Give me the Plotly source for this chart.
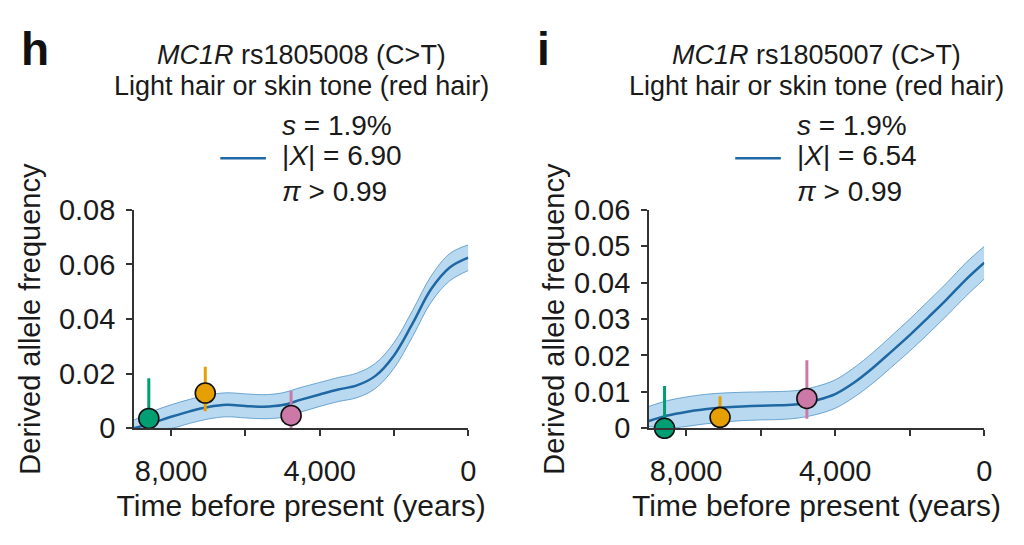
import plotly.graph_objects as go

# ---------------- data ----------------
years = [9000, 8500, 8000, 7500, 7000, 6500, 6000, 5500, 5000, 4500,
         4000, 3500, 3000, 2500, 2000, 1500, 1000, 500, 0]

h_mean = [0.0000, 0.0020, 0.0042, 0.0062, 0.0078, 0.0086, 0.0082, 0.0079, 0.0085, 0.0105,
          0.0124, 0.0142, 0.0157, 0.0192, 0.0267, 0.0384, 0.0510, 0.0589, 0.0625]
h_upper = [0.0030, 0.0062, 0.0086, 0.0106, 0.0122, 0.0130, 0.0126, 0.0123, 0.0130, 0.0150,
           0.0168, 0.0186, 0.0202, 0.0238, 0.0314, 0.0432, 0.0558, 0.0640, 0.0672]
h_lower = [0.0000, 0.0000, 0.0000, 0.0018, 0.0034, 0.0042, 0.0038, 0.0035, 0.0040, 0.0060,
           0.0080, 0.0098, 0.0112, 0.0146, 0.0220, 0.0336, 0.0462, 0.0540, 0.0578]

i_mean = [0.0020, 0.0035, 0.0045, 0.0052, 0.0057, 0.0060, 0.0062, 0.0063, 0.0066, 0.0077,
          0.0094, 0.0125, 0.0165, 0.0210, 0.0256, 0.0305, 0.0355, 0.0408, 0.0455]
i_upper = [0.0060, 0.0076, 0.0086, 0.0093, 0.0097, 0.0099, 0.0100, 0.0101, 0.0104, 0.0115,
           0.0133, 0.0166, 0.0207, 0.0253, 0.0300, 0.0350, 0.0400, 0.0454, 0.0500]
i_lower = [0.0005, 0.0000, 0.0005, 0.0012, 0.0017, 0.0021, 0.0023, 0.0024, 0.0028, 0.0038,
           0.0055, 0.0085, 0.0123, 0.0167, 0.0212, 0.0260, 0.0310, 0.0362, 0.0410]

pt_colors = ["#009E73", "#E69F00", "#CC79A7"]

h_pt_x = [8600, 7080, 4770]
h_pt_y = [0.0036, 0.0129, 0.0047]
h_pt_hi = [0.0183, 0.0225, 0.0137]
h_pt_lo = [0.0000, 0.0062, 0.0000]

i_pt_x = [8580, 7090, 4760]
i_pt_y = [0.0000, 0.0030, 0.0082]
i_pt_hi = [0.0116, 0.0088, 0.0187]
i_pt_lo = [0.0000, 0.0000, 0.0026]

h_yticks = [0, 0.02, 0.04, 0.06, 0.08]
h_yticktext = ["0", "0.02", "0.04", "0.06", "0.08"]
i_yticks = [0, 0.01, 0.02, 0.03, 0.04, 0.05, 0.06]
i_yticktext = ["0", "0.01", "0.02", "0.03", "0.04", "0.05", "0.06"]
xticks = [8000, 6000, 4000, 2000, 0]
xticktext = ["8,000", "", "4,000", "", "0"]

panels = [
    dict(label="h", snp="rs1805008", X="6.90", mean=h_mean, up=h_upper, lo=h_lower,
         px=h_pt_x, py=h_pt_y, phi=h_pt_hi, plo=h_pt_lo, yt=h_yticks, ytt=h_yticktext, ymax=0.08),
    dict(label="i", snp="rs1805007", X="6.54", mean=i_mean, up=i_upper, lo=i_lower,
         px=i_pt_x, py=i_pt_y, phi=i_pt_hi, plo=i_pt_lo, yt=i_yticks, ytt=i_yticktext, ymax=0.06),
]

# ---------------- styling ----------------
FONT = "Liberation Sans, Arial, sans-serif"
TXT = "#1a1a1a"
LINE = "#1f68a3"
BAND = "rgba(125,185,226,0.55)"
BAND_EDGE = "rgba(80,148,200,0.8)"
AXC = "#333333"

W, H = 1024, 545
x_domains = [[135 / W, 472 / W], [654 / W, 992 / W]]
y_domain = [(H - 438) / H, (H - 206) / H]
ytitle_standoff = [10, 1]
letter_x = [19, 539]
stat_x = [282, 801]
legline_x = [222, 741]

fig = go.Figure()
annotations = []
shapes = []


def ann(text, x, ypix, size, anchor="center", **kw):
    annotations.append(dict(text=text, xref="paper", yref="paper", x=x, y=1 - ypix / H,
                            xanchor=anchor, yanchor="middle", showarrow=False,
                            font=dict(size=size, color=kw.pop("color", TXT), family=FONT), **kw))


for k, p in enumerate(panels):
    xa = "x" if k == 0 else "x2"
    ya = "y" if k == 0 else "y2"
    # credible band
    fig.add_trace(go.Scatter(x=years, y=p["lo"], mode="lines", line=dict(color=BAND_EDGE, width=1, shape="spline"),
                             xaxis=xa, yaxis=ya, showlegend=False, hoverinfo="skip"))
    fig.add_trace(go.Scatter(x=years, y=p["up"], mode="lines", line=dict(color=BAND_EDGE, width=1, shape="spline"),
                             fill="tonexty", fillcolor=BAND, xaxis=xa, yaxis=ya, showlegend=False, hoverinfo="skip"))
    # mean trajectory
    fig.add_trace(go.Scatter(x=years, y=p["mean"], mode="lines", line=dict(color=LINE, width=2.5, shape="spline"),
                             xaxis=xa, yaxis=ya, showlegend=False))
    # ancient samples
    for j in range(3):
        fig.add_trace(go.Scatter(
            x=[p["px"][j]], y=[p["py"][j]], mode="markers",
            marker=dict(color=pt_colors[j], size=20, line=dict(color="#111111", width=1.6)),
            error_y=dict(type="data", symmetric=False,
                         array=[p["phi"][j] - p["py"][j]], arrayminus=[p["py"][j] - p["plo"][j]],
                         color=pt_colors[j], thickness=3, width=0),
            xaxis=xa, yaxis=ya, showlegend=False, cliponaxis=False))

    xd = x_domains[k]
    cx = (xd[0] + xd[1]) / 2
    ann("<b>%s</b>" % p["label"], letter_x[k] / W, 35, 46, anchor="left", color="#111111")
    ann("<i>MC1R</i> %s (C>T)" % p["snp"], cx, 41, 27)
    ann("Light hair or skin tone (red hair)", cx, 74, 27)
    lx = stat_x[k] / W
    ann("<i>s</i> = 1.9%", lx, 116, 28, anchor="left")
    ann("|<i>X</i>| = " + p["X"], lx, 148, 28, anchor="left")
    ann("<i>π</i> > 0.99", lx, 186, 28, anchor="left")
    l0 = legline_x[k] / W
    shapes.append(dict(type="line", xref="paper", yref="paper", x0=l0, x1=l0 + 46 / W,
                       y0=1 - 151 / H, y1=1 - 151 / H, line=dict(color=LINE, width=2.5)))

    axis_common = dict(showgrid=False, zeroline=False, showline=True, linecolor=AXC, linewidth=1.5,
                       ticks="outside", tickcolor=AXC, ticklen=6, tickwidth=1.5,
                       tickfont=dict(size=29, color=TXT, family=FONT))
    xkey = "xaxis" if k == 0 else "xaxis2"
    ykey = "yaxis" if k == 0 else "yaxis2"
    fig.layout[xkey] = dict(axis_common, domain=xd, range=[9000, 0], anchor=ya,
                            tickvals=xticks, ticktext=xticktext, ticklabelstandoff=10,
                            title=dict(text="Time before present (years)", standoff=9,
                                       font=dict(size=30, color=TXT, family=FONT)))
    fig.layout[ykey] = dict(axis_common, domain=y_domain, range=[0, p["ymax"]], anchor=xa,
                            tickvals=p["yt"], ticktext=p["ytt"], ticklabelstandoff=5,
                            title=dict(text="Derived allele frequency", standoff=ytitle_standoff[k],
                                       font=dict(size=29, color=TXT, family=FONT)))

fig.update_layout(width=W, height=H, margin=dict(l=0, r=0, t=0, b=0),
                  paper_bgcolor="white", plot_bgcolor="white",
                  annotations=annotations, shapes=shapes, showlegend=False,
                  font=dict(family=FONT, color=TXT))

fig.write_html("out.html")
